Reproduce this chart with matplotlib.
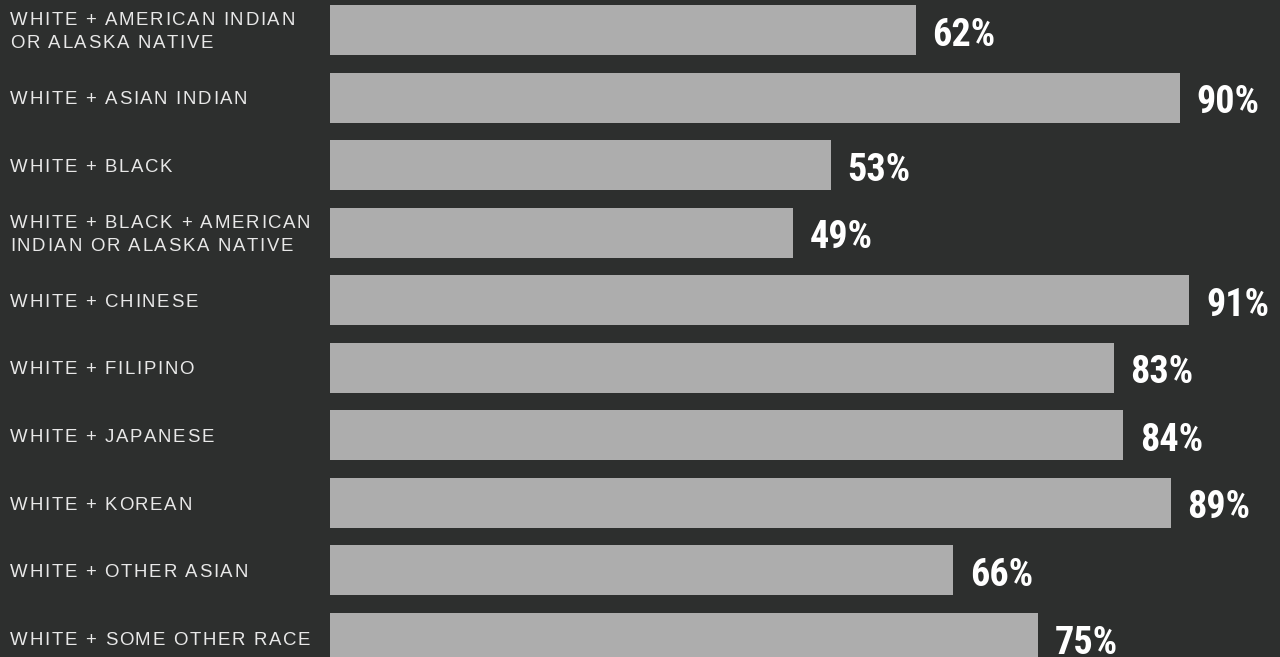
import matplotlib
matplotlib.use("Agg")
import matplotlib.pyplot as plt
import matplotlib.transforms as mtransforms
from matplotlib import font_manager
from matplotlib.font_manager import FontProperties
from matplotlib.ft2font import FT2Font

categories = [
    ["WHITE + AMERICAN INDIAN", "OR ALASKA NATIVE"],
    ["WHITE + ASIAN INDIAN"],
    ["WHITE + BLACK"],
    ["WHITE + BLACK + AMERICAN", "INDIAN OR ALASKA NATIVE"],
    ["WHITE + CHINESE"],
    ["WHITE + FILIPINO"],
    ["WHITE + JAPANESE"],
    ["WHITE + KOREAN"],
    ["WHITE + OTHER ASIAN"],
    ["WHITE + SOME OTHER RACE"],
]
values = [62, 90, 53, 49, 91, 83, 84, 89, 66, 75]

BG = "#2d2f2e"
BAR = "#adadad"
LABEL_C = "#e8e8e8"
VALUE_C = "#ffffff"

W, H, DPI = 1280, 657, 100
PX = 72.0 / DPI  # points per pixel

def pick_font(cands, weight="normal"):
    for c in cands:
        try:
            p = font_manager.findfont(FontProperties(family=c, weight=weight),
                                      fallback_to_default=False)
            return c, p
        except Exception:
            continue
    return "DejaVu Sans", font_manager.findfont(FontProperties(family="DejaVu Sans"))

label_family, label_path = pick_font(["Liberation Sans", "Arial", "DejaVu Sans"])
value_family, _ = pick_font(["Liberation Sans Narrow", "Roboto Condensed", "Roboto"], "bold")

fig = plt.figure(figsize=(W / DPI, H / DPI), dpi=DPI, facecolor=BG)
pitch = 67.56
first_center = 30.0
ax = fig.add_axes([330 / W, 0, 944.5 / W, 1])
ax.set_facecolor(BG)
ax.set_xlim(0, 100)
ax.set_ylim((H - first_center) / pitch, -first_center / pitch)
ax.axis("off")

ypos = list(range(len(values)))
ax.barh(ypos, values, height=50 / pitch, color=BAR, linewidth=0)

# value labels
for y, v in zip(ypos, values):
    tr = mtransforms.offset_copy(ax.transData, fig, x=16.5 * PX, y=-15.5 * PX, units="points")
    ax.text(v, y, f"{v}%", transform=tr, ha="left", va="baseline",
            fontsize=27.5, fontweight="bold", family=value_family,
            color=VALUE_C, clip_on=False)

# letter-spaced category labels
lab_size = 13.4
spacing_pt = 1.7 * PX
ft = FT2Font(label_path)
ft.set_size(lab_size, 72)

def advance(ch):
    g = ft.load_char(ord(ch))
    return g.linearHoriAdvance / 65536.0

cap_pt = 0.716 * lab_size
blend = mtransforms.blended_transform_factory(fig.transFigure, ax.transData)
for y, lines in zip(ypos, categories):
    n = len(lines)
    for li, line in enumerate(lines):
        if n == 1:
            dy_px = 0.0
        else:
            dy_px = -11.5 if li == 0 else 11.75
        x_pt = 0.0
        for ch in line:
            if ch != " ":
                tr = mtransforms.offset_copy(blend, fig, x=x_pt,
                                             y=-(dy_px * PX) - cap_pt / 2, units="points")
                fig.text(10 / W, y, ch, transform=tr, ha="left", va="baseline",
                         fontsize=lab_size, family=label_family, color=LABEL_C)
            x_pt += advance(ch) + spacing_pt

fig.savefig("out.png", dpi=DPI, facecolor=BG)
